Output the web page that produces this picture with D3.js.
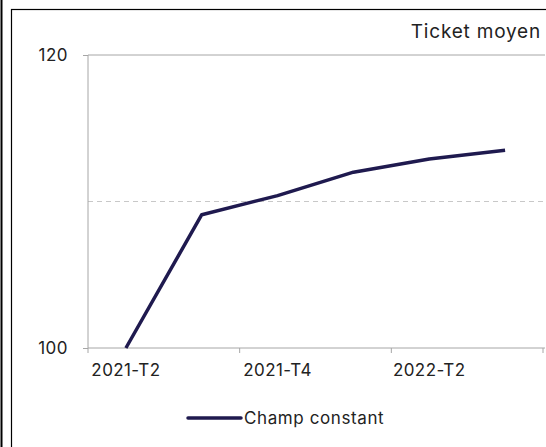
<!DOCTYPE html>
<html lang="en">
  <head>
    <meta charset="UTF-8">
    <title>Ticket moyen</title>
    <script src="https://d3js.org/d3.v7.min.js"></script>
    <style>
      body { margin: 0; background: #fff; }
      svg { display: block; font-family: Inter, "Noto Sans", sans-serif; }
    </style>
  </head>
  <body>
    <svg id="chart" width="546" height="447"></svg>
  <script>
    // data
    var quarters = ["2021-T2", "2021-T3", "2021-T4", "2022-T1", "2022-T2", "2022-T3"];
    var values = [100, 109.1, 110.4, 112.0, 112.9, 113.5];
    var yTicks = [100, 120];
    var xLabels = ["2021-T2", "2021-T4", "2022-T2"];

    var svg = d3.select("#chart");
    var mLeft = 88, mRight = 543, mTop = 55, mBottom = 348;

    // frame
    svg.append("line").attr("x1", 1.5).attr("x2", 1.5).attr("y1", 0).attr("y2", 447)
      .attr("stroke", "#000").attr("stroke-width", 2);
    svg.append("rect").attr("x", 11.5).attr("y", 9.5).attr("width", 540).attr("height", 445)
      .attr("fill", "none").attr("stroke", "#000").attr("stroke-width", 1.2);

    var x = d3.scaleBand().domain(quarters).range([mLeft, mRight]);
    var y = d3.scaleLinear().domain([100, 120]).range([mBottom, mTop]);

    // dashed gridline at 110
    svg.append("line")
      .attr("x1", mLeft).attr("x2", 545)
      .attr("y1", y(110)).attr("y2", y(110))
      .attr("stroke", "#c8c8c8").attr("stroke-dasharray", "5,4");

    // top line at 120
    svg.append("line")
      .attr("x1", mLeft).attr("x2", 545)
      .attr("y1", y(120)).attr("y2", y(120))
      .attr("stroke", "#a6a6a6");

    // y axis
    var gy = svg.append("g").attr("transform", "translate(" + mLeft + ",0)")
      .call(d3.axisLeft(y).tickValues(yTicks).tickSize(5).tickPadding(15));
    gy.selectAll("path, line").attr("stroke", "#a6a6a6");
    gy.select(".domain").attr("d", "M0," + mTop + "V" + mBottom);
    gy.selectAll("text").attr("font-size", 17).attr("fill", "#222")
      .attr("font-family", "Inter, sans-serif").attr("letter-spacing", 0.5);

    // x axis
    var gx = svg.append("g").attr("transform", "translate(0," + mBottom + ")");
    gx.append("line").attr("x1", mLeft).attr("x2", 545).attr("stroke", "#a6a6a6");
    var boundaries = [0, 2, 4, 6].map(function(i) { return mLeft + i * x.step(); });
    gx.selectAll(".tk").data(boundaries).enter().append("line")
      .attr("x1", function(d) { return d; }).attr("x2", function(d) { return d; })
      .attr("y1", 0).attr("y2", 5).attr("stroke", "#a6a6a6");
    gx.selectAll(".lbl").data(xLabels).enter().append("text")
      .attr("x", function(d) { return x(d) + x.bandwidth() / 2; })
      .attr("y", 28)
      .attr("text-anchor", "middle")
      .attr("font-size", 17).attr("fill", "#222").attr("letter-spacing", 0.4)
      .text(function(d) { return d; });

    // line
    var line = d3.line()
      .x(function(d, i) { return x(quarters[i]) + x.bandwidth() / 2; })
      .y(function(d) { return y(d); });
    svg.append("path").datum(values)
      .attr("d", line)
      .attr("fill", "none")
      .attr("stroke", "#1f1a4f")
      .attr("stroke-width", 3.5)
      .attr("stroke-linejoin", "round");

    // title
    svg.append("text").attr("x", 541).attr("y", 38)
      .attr("text-anchor", "end").attr("font-size", 19).attr("fill", "#222")
      .attr("letter-spacing", 0.8)
      .text("Ticket moyen");

    // legend
    svg.append("line").attr("x1", 188).attr("x2", 241).attr("y1", 418).attr("y2", 418)
      .attr("stroke", "#1f1a4f").attr("stroke-width", 3.5).attr("stroke-linecap", "round");
    svg.append("text").attr("x", 244).attr("y", 424)
      .attr("font-size", 17).attr("fill", "#222").attr("letter-spacing", 0.6)
      .text("Champ constant");
  </script>
  </body>
</html>
